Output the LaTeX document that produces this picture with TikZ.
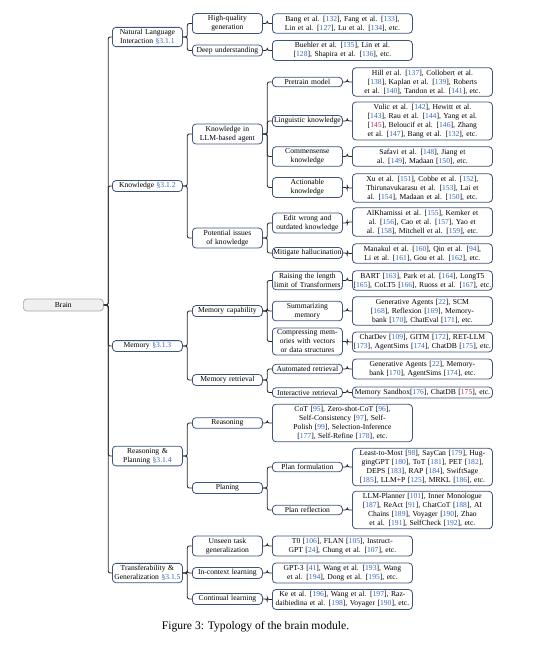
\documentclass[tikz,border=0pt]{standalone}
\usepackage{fontspec}
\setmainfont{Liberation Serif}
\definecolor{citeblue}{RGB}{55,105,185}
\definecolor{citemag}{RGB}{170,50,110}
\definecolor{boxcol}{RGB}{62,84,125}
\definecolor{linecol}{RGB}{40,40,40}
\newcommand{\cc}[1]{[\textcolor{citeblue}{#1}]}
\newcommand{\cm}[1]{[\textcolor{citemag}{#1}]}
\newcommand{\sect}[1]{\textcolor{citeblue}{\S#1}}
\newcommand{\fs}{\fontsize{7.6}{9}\selectfont}
\newcommand{\tie}[2]{\draw[link] (#1.east) -- ++(4.5,0) |- (#2.west);}
\tikzset{
  box/.style={draw=boxcol, line width=0.8pt, rounded corners=3.5pt, fill=white,
    align=center, inner xsep=1pt, inner ysep=2pt, font=\fs, anchor=west},
  mid/.style={box, text width=68pt},
  leaf/.style={box, text width=138pt},
  link/.style={draw=linecol, line width=0.85pt, rounded corners=2pt},
}
\begin{document}
\begin{tikzpicture}[x=1pt,y=-1pt]
\useasboundingbox (0,0) rectangle (554,647);
% root
\node[draw=gray!70, fill=gray!12, line width=0.7pt, rounded corners=3.5pt, font=\fs,
  minimum width=80pt, minimum height=12pt, inner sep=1pt, anchor=west] (brain) at (23,305) {Brain};
% level 1
\node[mid] (nl)  at (112,37)  {Natural Language\\Interaction \sect{3.1.1}};
\node[mid] (kn)  at (112,186) {Knowledge \sect{3.1.2}};
\node[mid] (mem) at (112,346) {Memory \sect{3.1.3}};
\node[mid] (rp)  at (112,456) {Reasoning \&\\Planning \sect{3.1.4}};
\node[mid] (tg)  at (112,573) {Transferability \&\\Generalization \sect{3.1.5}};
% level 2
\node[mid] (hq)  at (192,23.5) {High-quality\\generation};
\node[mid] (du)  at (192,50.5) {Deep understanding};
\node[mid] (kia) at (192,134) {Knowledge in\\LLM-based agent};
\node[mid] (pik) at (192,238) {Potential issues\\of knowledge};
\node[mid] (mc)  at (192,311) {Memory capability};
\node[mid] (mr)  at (192,380) {Memory retrieval};
\node[mid] (rea) at (192,423) {Reasoning};
\node[mid] (pla) at (192,488) {Planing};
\node[mid] (ut)  at (192,546) {Unseen task\\generalization};
\node[mid] (icl) at (192,573) {In-context learning};
\node[mid] (cl)  at (192,599) {Continual learning};
% leaves of level 2
\node[leaf] (hqL)  at (272,23.5) {Bang et al. \cc{132}, Fang et al. \cc{133},\\Lin et al. \cc{127}, Lu et al. \cc{134}, etc.};
\node[leaf] (duL)  at (272,50.5) {Buehler et al. \cc{135}, Lin et al.\\\cc{128}, Shapira et al. \cc{136}, etc.};
\node[leaf] (reaL) at (272,423) {CoT \cc{95}, Zero-shot-CoT \cc{96},\\Self-Consistency \cc{97}, Self-\\Polish \cc{99}, Selection-Inference\\\cc{177}, Self-Refine \cc{178}, etc.};
\node[leaf] (utL)  at (272,546) {T0 \cc{106}, FLAN \cc{105}, Instruct-\\GPT \cc{24}, Chung et al. \cc{107}, etc.};
\node[leaf] (iclL) at (272,573) {GPT-3 \cc{41}, Wang et al. \cc{193}, Wang\\et al. \cc{194}, Dong et al. \cc{195}, etc.};
\node[leaf] (clL)  at (272,599.5) {Ke et al. \cc{196}, Wang et al. \cc{197}, Raz-\\daibiedina et al. \cc{198}, Voyager \cc{190}, etc.};
% level 3
\node[mid] (pm) at (272,82)  {Pretrain model};
\node[mid] (lk) at (272,121) {Linguistic knowledge};
\node[mid] (ck) at (272,156.5) {Commensense\\knowledge};
\node[mid] (ak) at (272,187.5) {Actionable\\knowledge};
\node[mid] (ew) at (272,223) {Edit wrong and\\outdated knowledge};
\node[mid] (mh) at (272,253) {Mitigate hallucination};
\node[mid] (rl) at (272,280.5) {Raising the length\\limit of Transformers};
\node[mid] (sm) at (272,311) {Summarizing\\memory};
\node[mid] (cmp) at (272,341.5) {Compressing mem-\\ories with vectors\\or data structures};
\node[mid] (ar) at (272,369) {Automated retrieval};
\node[mid] (ir) at (272,392.5) {Interactive retrieval};
\node[mid] (pf) at (272,467) {Plan formulation};
\node[mid] (pr) at (272,510) {Plan reflection};
% leaves of level 3
\node[leaf] (pmL) at (352,82)  {Hill et al. \cc{137}, Collobert et al.\\\cc{138}, Kaplan et al. \cc{139}, Roberts\\et al. \cc{140}, Tandon et al. \cc{141}, etc.};
\node[leaf] (lkL) at (352,121) {Vulic et al. \cc{142}, Hewitt et al.\\\cc{143}, Rau et al. \cc{144}, Yang et al.\\\cm{145}, Beloucif et al. \cc{146}, Zhang\\et al. \cc{147}, Bang et al. \cc{132}, etc.};
\node[leaf] (ckL) at (352,156.5) {Safavi et al. \cc{148}, Jiang et\\al. \cc{149}, Madaan \cc{150}, etc.};
\node[leaf] (akL) at (352,188) {Xu et al. \cc{151}, Cobbe et al. \cc{152},\\Thirunavukarasu et al. \cc{153}, Lai et\\al. \cc{154}, Madaan et al. \cc{150}, etc.};
\node[leaf] (ewL) at (352,222) {AlKhamissi et al. \cc{155}, Kemker et\\al. \cc{156}, Cao et al. \cc{157}, Yao et\\al. \cc{158}, Mitchell et al. \cc{159}, etc.};
\node[leaf] (mhL) at (352,253.5) {Manakul et al. \cc{160}, Qin et al. \cc{94},\\Li et al. \cc{161}, Gou et al. \cc{162}, etc.};
\node[leaf] (rlL) at (352,280.5) {BART \cc{163}, Park et al. \cc{164}, LongT5\\\cc{165}, CoLT5 \cc{166}, Ruoss et al. \cc{167}, etc.};
\node[leaf] (smL) at (352,311) {Generative Agents \cc{22}, SCM\\\cc{168}, Reflexion \cc{169}, Memory-\\bank \cc{170}, ChatEval \cc{171}, etc.};
\node[leaf] (cmL) at (352,342) {ChatDev \cc{109}, GITM \cc{172}, RET-LLM\\\cc{173}, AgentSims \cc{174}, ChatDB \cc{175}, etc.};
\node[leaf] (arL) at (352,369) {Generative Agents \cc{22}, Memory-\\bank \cc{170}, AgentSims \cc{174}, etc.};
\node[leaf] (irL) at (352,392.5) {Memory Sandbox\cc{176}, ChatDB \cm{175}, etc.};
\node[leaf] (pfL) at (352,467) {Least-to-Most \cc{98}, SayCan \cc{179}, Hug-\\gingGPT \cc{180}, ToT \cc{181}, PET \cc{182},\\DEPS \cc{183}, RAP \cc{184}, SwiftSage\\\cc{185}, LLM+P \cc{125}, MRKL \cc{186}, etc.};
\node[leaf] (prL) at (352,510) {LLM-Planner \cc{101}, Inner Monologue\\\cc{187}, ReAct \cc{91}, ChatCoT \cc{188}, AI\\Chains \cc{189}, Voyager \cc{190}, Zhao\\et al. \cc{191}, SelfCheck \cc{192}, etc.};
% connectors
\foreach \c in {nl,kn,mem,rp,tg} {\tie{brain}{\c}}
\foreach \c in {hq,du} {\tie{nl}{\c}}
\foreach \c in {kia,pik} {\tie{kn}{\c}}
\foreach \c in {mc,mr} {\tie{mem}{\c}}
\foreach \c in {rea,pla} {\tie{rp}{\c}}
\foreach \c in {ut,icl,cl} {\tie{tg}{\c}}
\foreach \p/\c in {hq/hqL,du/duL,rea/reaL,ut/utL,icl/iclL,cl/clL} {\tie{\p}{\c}}
\foreach \c in {pm,lk,ck,ak} {\tie{kia}{\c}}
\foreach \c in {ew,mh} {\tie{pik}{\c}}
\foreach \c in {rl,sm,cmp} {\tie{mc}{\c}}
\foreach \c in {ar,ir} {\tie{mr}{\c}}
\foreach \c in {pf,pr} {\tie{pla}{\c}}
\foreach \p/\c in {pm/pmL,lk/lkL,ck/ckL,ak/akL,ew/ewL,mh/mhL,rl/rlL,sm/smL,cmp/cmL,ar/arL,ir/irL,pf/pfL,pr/prL} {\tie{\p}{\c}}
% caption
\node[font=\fontsize{11.6}{13}\selectfont, inner sep=0pt] (cap) at (255.5,627) {Figure 3: Typology of the brain module.};
\end{tikzpicture}
\end{document}
